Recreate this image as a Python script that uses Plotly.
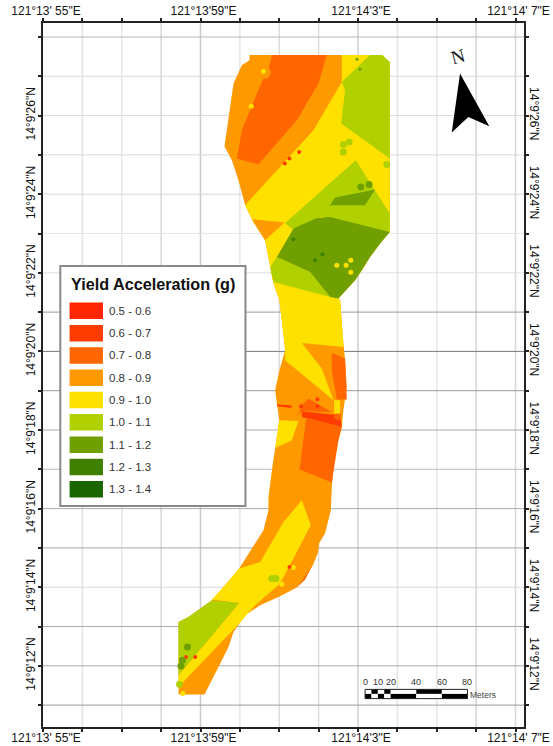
import plotly.graph_objects as go

# ---- data: longitude seconds past 121 deg 13' (60 = 121 deg 14'), latitude seconds past 14 deg 9'
class_labels = ["0.5 - 0.6", "0.6 - 0.7", "0.7 - 0.8", "0.8 - 0.9", "0.9 - 1.0",
                "1.0 - 1.1", "1.1 - 1.2", "1.2 - 1.3", "1.3 - 1.4"]
class_colors = ["#FF2600", "#FF3C00", "#FF6600", "#FF9900", "#FFE100",
                "#B0D000", "#70A000", "#408000", "#1A6600"]

site_lon = [60.244,63.612,63.807,63.807,63.561,63.307,63.096,62.926,62.502,62.546,62.629,62.672,62.716,62.629,62.589,62.502,62.376,62.335,62.310,62.165,62.013,61.980,61.853,61.657,61.447,60.980,60.515,60.134,59.838,59.711,59.457,59.102,58.442,58.442,58.695,59.289,59.584,59.982,60.305,60.599,60.726,60.726,60.837,60.896,61.005,60.939,60.896,61.005,61.150,61.066,61.005,60.853,60.769,60.642,60.345,60.134,59.964,59.797,59.609,59.711,59.838,60.051,60.244]
site_lat = [27.542,27.542,27.364,23.038,22.743,22.402,22.064,21.809,21.344,21.300,20.199,19.774,19.094,18.501,18.076,17.738,17.059,16.550,15.957,15.372,15.117,14.863,14.557,14.219,13.990,13.751,13.540,13.285,12.860,12.478,11.970,11.267,11.267,13.115,13.242,13.667,14.005,14.473,14.982,15.448,15.957,16.295,17.145,17.568,18.247,18.672,19.010,19.519,20.028,20.791,21.300,21.725,22.148,22.827,23.293,23.718,24.354,24.863,25.219,25.964,26.814,27.280,27.407]

yellow_main_lon = [62.589,63.612,63.807,63.807,63.561,63.307,63.096,62.926,62.502,62.546,62.629,62.629,61.574,62.081,62.376,61.150,61.150,61.066,61.005,60.853,60.769,60.642,60.345,60.134,61.868,62.589]
yellow_main_lat = [27.542,27.542,27.364,23.038,22.743,22.402,22.064,21.809,21.344,21.300,20.199,20.112,20.214,19.562,18.756,19.774,20.028,20.791,21.300,21.725,22.148,22.827,23.293,23.718,25.626,26.855]
yellow_low_lon = [61.574,61.802,61.023,60.388,59.982,58.442,58.442,59.982,59.289,59.584,59.982,60.515,61.107]
yellow_low_lat = [16.211,15.575,14.092,13.540,13.074,11.461,11.758,13.598,13.685,14.005,14.473,14.641,15.659]
yellow_left_lon = [60.997,61.487,61.320,60.896]
yellow_left_lat = [18.247,18.229,17.738,17.542]
yellow_rect_lon = [62.393,62.546,62.546,62.393]
yellow_rect_lat = [18.756,18.756,18.417,18.417]

high_north_lon = [60.812,62.208,61.995,61.447,60.472,59.924,60.051,60.431,60.769]
high_north_lat = [27.542,27.542,26.814,25.880,24.761,24.906,25.626,26.560,27.323]
mid_a_lon = [62.335,62.672,62.716,62.462,62.335]
mid_a_lat = [19.959,19.817,18.774,18.774,19.519]
mid_b_lon = [61.741,62.335,61.574,61.472,61.574]
mid_b_lat = [18.799,18.458,18.476,18.374,18.629]
mid_c_lon = [61.683,62.589,62.502,62.335,61.513]
mid_c_lat = [18.290,18.076,17.738,16.662,16.992]
mid_d_lon = [62.393,62.563,62.546,62.393]
mid_d_lat = [18.417,18.417,18.247,18.290]
sliver_lon = [61.853,61.657,61.462,61.733]
sliver_lat = [14.583,14.193,14.000,14.379]
strip_lon = [61.574,62.546,62.589,61.574]
strip_lat = [18.476,18.374,18.076,18.331]
stripe_lon = [60.939,61.320,61.302,60.954]
stripe_lat = [18.654,18.621,18.560,18.603]
wedge_lon = [60.305,61.132,60.642]
wedge_lat = [23.361,23.277,22.827]

light_ne_lon = [63.307,63.612,63.807,63.807,62.571,62.672,62.589]
light_ne_lat = [27.542,27.542,27.364,24.906,25.796,26.644,26.855]
light_c_lon = [61.150,62.944,63.807,63.807,62.038,61.360]
light_c_lat = [23.267,24.863,23.506,23.038,23.420,23.081]
light_w_lon = [60.939,61.784,62.292,60.853,60.769]
light_w_lat = [22.402,22.020,21.384,21.766,22.148]
light_s_lon = [58.442,58.695,59.289,59.982,58.442]
light_s_lat = [13.115,13.242,13.667,13.598,11.758]
green_main_lon = [61.360,61.954,62.292,63.807,63.561,63.307,63.096,62.926,62.502,62.292,61.784,60.939]
green_main_lat = [23.125,23.394,23.420,23.038,22.743,22.402,22.064,21.809,21.344,21.384,22.020,22.402]
green_small_lon = [62.292,62.419,63.434,63.180]
green_small_lat = [23.718,23.913,24.117,23.718]

spot_orange_lon = [60.620]
spot_orange_lat = [27.100]
spot_yellow_lon = [60.599,60.287,62.462,62.698,62.817,62.817,61.066,61.360,58.553]
spot_yellow_lat = [27.127,26.237,22.191,22.191,22.318,22.013,14.074,14.499,11.293]
spot_red_lon = [61.505,61.259,61.142,61.969,61.969,61.556,61.259,58.865,58.629]
spot_red_lat = [25.074,24.906,24.779,18.781,18.595,18.603,14.514,12.224,12.224]
spot_light_lon = [62.629,62.774,62.629,63.731,60.812,60.914,58.467]
spot_light_lat = [25.262,25.328,25.074,24.753,14.219,14.219,11.529]
spot_tiny_lon = [63.053,62.977]
spot_tiny_lat = [27.178,27.433]
spot_green_lon = [63.071,63.282,58.670,58.543,58.503]
spot_green_lat = [24.183,24.244,12.478,12.140,11.995]
spot_dark_lon = [61.360,62.096,61.911]
spot_dark_lat = [22.852,22.471,22.318]

x_tick_vals = [55, 59, 63, 67]
x_tick_text = ["121°13' 55\"E", "121°13'59\"E", "121°14'3\"E", "121°14' 7\"E"]
y_tick_vals = [12, 14, 16, 18, 20, 22, 24, 26]
y_tick_text = ["14°9'12\"N", "14°9'14\"N", "14°9'16\"N", "14°9'18\"N",
               "14°9'20\"N", "14°9'22\"N", "14°9'24\"N", "14°9'26\"N"]
scale_metres = [0, 5, 10, 15, 20, 40, 60, 80]
scale_labels = [0, 10, 20, 40, 60, 80]
legend_title = "Yield Acceleration (g)"

# ---- layout constants
W, H = 553, 746
L, T, R, B = 42.7, 22.7, 524.0, 726.7
X_RANGE = [55, 67.216]
Y_RANGE = [10.443, 28.356]
def fx(p): return (p - L) / (R - L)
def fy(p): return (B - p) / (B - T)

# grid line tones (the graticule is resampled in the source, so the lines differ in weight)
V_GRID = {56: "#e2e2e2", 57: "#e6e6e6", 58: "#d8d8d8", 59: "#cccccc", 60: "#e6e6e6", 61: "#dddddd",
          62: "#dddddd", 63: "#cfcfcf", 64: "#e6e6e6", 65: "#e8e8e8", 66: "#d4d4d4", 67: "#d8d8d8"}
H_GRID = {28: "#b8b8b8", 27: "#d8d8d8", 26: "#d8d8d8", 25: "#d8d8d8", 24: "#d8d8d8", 23: "#e6e6e6",
          22: "#e0e0e0", 21: "#999999", 20: "#777777", 19: "#999999", 18: "#aaaaaa", 17: "#bbbbbb",
          16: "#aaaaaa", 15: "#aaaaaa", 14: "#d8d8d8", 13: "#aaaaaa", 12: "#aaaaaa", 11: "#999999"}

fig = go.Figure()
def zone(lon, lat, idx, name):
    fig.add_trace(go.Scatter(x=lon, y=lat, mode="lines", fill="toself", line=dict(width=0),
                             fillcolor=class_colors[idx], name=name, showlegend=False, hoverinfo="name"))
def spots(lon, lat, idx, size):
    fig.add_trace(go.Scatter(x=lon, y=lat, mode="markers", showlegend=False, hoverinfo="skip",
                             marker=dict(color=class_colors[idx], size=size, line=dict(width=0))))

zone(site_lon, site_lat, 3, class_labels[3])
zone(yellow_main_lon, yellow_main_lat, 4, class_labels[4])
zone(yellow_low_lon, yellow_low_lat, 4, class_labels[4])
zone(yellow_left_lon, yellow_left_lat, 4, class_labels[4])
zone(high_north_lon, high_north_lat, 2, class_labels[2])
zone(mid_a_lon, mid_a_lat, 2, class_labels[2])
zone(mid_c_lon, mid_c_lat, 2, class_labels[2])
zone(sliver_lon, sliver_lat, 2, class_labels[2])
zone(strip_lon, strip_lat, 1, class_labels[1])
zone(stripe_lon, stripe_lat, 1, class_labels[1])
zone(mid_b_lon, mid_b_lat, 2, class_labels[2])
zone(mid_d_lon, mid_d_lat, 2, class_labels[2])
zone(yellow_rect_lon, yellow_rect_lat, 4, class_labels[4])
zone(wedge_lon, wedge_lat, 3, class_labels[3])
zone(light_ne_lon, light_ne_lat, 5, class_labels[5])
zone(light_c_lon, light_c_lat, 5, class_labels[5])
zone(light_w_lon, light_w_lat, 5, class_labels[5])
zone(light_s_lon, light_s_lat, 5, class_labels[5])
zone(green_main_lon, green_main_lat, 6, class_labels[6])
zone(green_small_lon, green_small_lat, 6, class_labels[6])
spots(spot_orange_lon, spot_orange_lat, 3, 13)
spots(spot_yellow_lon, spot_yellow_lat, 4, 5)
spots(spot_red_lon, spot_red_lat, 1, 4)
spots(spot_light_lon, spot_light_lat, 5, 7)
spots(spot_tiny_lon, spot_tiny_lat, 6, 3)
spots(spot_green_lon, spot_green_lat, 6, 7)
spots(spot_dark_lon, spot_dark_lat, 7, 4)
fig.add_trace(go.Scatter(x=[], y=[], xaxis="x2", yaxis="y2", showlegend=False, hoverinfo="skip"))

shapes, notes = [], []
for lon, col in V_GRID.items():
    shapes.append(dict(type="line", xref="x", yref="paper", x0=lon, x1=lon, y0=0, y1=1, layer="below",
                       line=dict(color=col, width=1.5)))
for lat, col in H_GRID.items():
    shapes.append(dict(type="line", xref="paper", yref="y", x0=0, x1=1, y0=lat, y1=lat, layer="below",
                       line=dict(color=col, width=1)))
# legend box
shapes.append(dict(type="rect", xref="paper", yref="paper", x0=fx(60), x1=fx(245.3), y0=fy(505.7), y1=fy(265.7),
                   fillcolor="white", line=dict(color="#8a8a8a", width=2), layer="above"))
notes.append(dict(text="<b>" + legend_title + "</b>", x=fx(68.5), y=fy(283.5), xref="paper", yref="paper",
                  xanchor="left", yanchor="middle", showarrow=False,
                  font=dict(family="Liberation Sans", size=16.2, color="#111")))
for i, (lab, col) in enumerate(zip(class_labels, class_colors)):
    top = 302.3 + i * 22.3
    shapes.append(dict(type="rect", xref="paper", yref="paper", x0=fx(69.3), x1=fx(102.7), y0=fy(top + 16.5), y1=fy(top),
                       fillcolor=col, line=dict(width=0), layer="above"))
    notes.append(dict(text=lab, x=fx(106.8), y=fy(top + 8.2), xref="paper", yref="paper", xanchor="left",
                      yanchor="middle", showarrow=False, font=dict(family="Liberation Sans", size=11.5, color="#333")))

# north arrow
arrow = [(460, 73.3), (489.3, 126), (468.3, 116.7), (451.7, 132.3)]
path = "M " + " L ".join(f"{fx(a):.4f},{fy(b):.4f}" for a, b in arrow) + " Z"
shapes.append(dict(type="path", xref="paper", yref="paper", path=path, fillcolor="black", line=dict(width=0), layer="above"))
notes.append(dict(text="N", x=fx(457.5), y=fy(56), xref="paper", yref="paper", showarrow=False, textangle=-15,
                  xanchor="center", yanchor="middle",
                  font=dict(family="Liberation Serif", size=19, color="#222")))

# scale bar
SB_LON0, SB_PER_M = 63.18, 0.0325
SB_TOP, SB_MID, SB_BOT = 11.40, 11.285, 11.165
for i in range(len(scale_metres) - 1):
    a = SB_LON0 + scale_metres[i] * SB_PER_M
    b = SB_LON0 + scale_metres[i + 1] * SB_PER_M
    upper, lower = ("white", "black") if i % 2 == 0 else ("black", "white")
    shapes.append(dict(type="rect", xref="x", yref="y", x0=a, x1=b, y0=SB_MID, y1=SB_TOP, fillcolor=upper,
                       line=dict(width=0), layer="above"))
    shapes.append(dict(type="rect", xref="x", yref="y", x0=a, x1=b, y0=SB_BOT, y1=SB_MID, fillcolor=lower,
                       line=dict(width=0), layer="above"))
shapes.append(dict(type="rect", xref="x", yref="y", x0=SB_LON0, x1=SB_LON0 + 80 * SB_PER_M, y0=SB_BOT, y1=SB_TOP,
                   fillcolor="rgba(0,0,0,0)", line=dict(color="#222", width=1), layer="above"))
for m in scale_labels:
    notes.append(dict(text=str(m), x=SB_LON0 + m * SB_PER_M, y=SB_TOP + 0.2, xref="x", yref="y", showarrow=False,
                      font=dict(family="Liberation Sans", size=9, color="#333")))
notes.append(dict(text="Meters", x=SB_LON0 + 80 * SB_PER_M + 0.02, y=SB_BOT + 0.1, xref="x", yref="y", xanchor="left",
                  showarrow=False, font=dict(family="Liberation Sans", size=8.5, color="#444")))

tick_font = dict(family="Liberation Sans", size=12, color="#111")
def axis(rng, vals, text, **kw):
    return dict(range=rng, tickmode="array", tickvals=vals, ticktext=text, tickfont=tick_font, ticks="outside",
                ticklen=3, tickwidth=2, tickcolor="#222", showgrid=False, zeroline=False, showline=True,
                linecolor="#222", linewidth=2, automargin=False,
                minor=dict(dtick=1, ticks="outside", ticklen=3, tickwidth=2, tickcolor="#222", tick0=0,
                           showgrid=False), **kw)

fig.update_layout(
    width=W, height=H, paper_bgcolor="white", plot_bgcolor="white", showlegend=False,
    margin=dict(l=L, r=W - R, t=T, b=H - B, pad=0),
    xaxis=axis(X_RANGE, x_tick_vals, x_tick_text, side="bottom", ticklabelstandoff=-4, ticklabelshift=3),
    yaxis=axis(Y_RANGE, y_tick_vals, y_tick_text, side="left", tickangle=-90, ticklabelstandoff=-2),
    xaxis2=dict(axis(X_RANGE, x_tick_vals, x_tick_text, side="top", ticklabelstandoff=-2, ticklabelshift=3),
                overlaying="x", anchor="y"),
    yaxis2=dict(axis(Y_RANGE, y_tick_vals, y_tick_text, side="right", tickangle=90, ticklabelstandoff=-4),
                overlaying="y", anchor="x"),
    shapes=shapes, annotations=notes,
)
fig.write_html("out.html", config={"displayModeBar": False}, post_script="document.body.style.margin='0';")
